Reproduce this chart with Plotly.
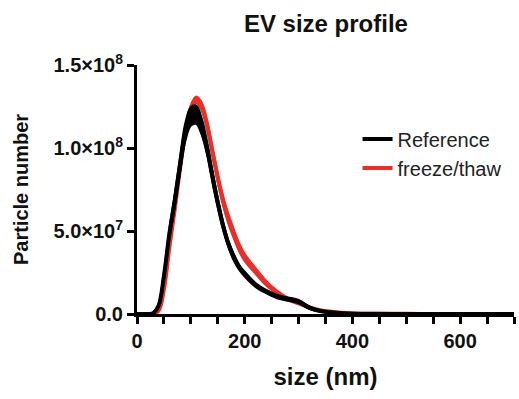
import plotly.graph_objects as go

size_nm = [0, 20, 30, 40, 50, 60, 70, 80, 90, 100, 110, 120, 130, 140, 150, 160, 170, 180, 190, 200,
           220, 240, 260, 280, 300, 320, 340, 360, 380, 400, 450, 500, 550, 600, 700]

ref_mean = [0, 0, 0.5e6, 5e6, 2.3e7, 4.8e7, 6.8e7, 9.0e7, 1.10e8, 1.19e8, 1.20e8, 1.13e8, 1.0e8, 8.3e7,
            6.7e7, 5.3e7, 4.2e7, 3.4e7, 2.8e7, 2.4e7, 1.75e7, 1.35e7, 1.05e7, 9.0e6, 7.5e6, 3.8e6,
            1.8e6, 1.0e6, 5e5, 2e5, 5e4, 0, 0, 0, 0]
ref_sem = [0, 0, 0.2e6, 1e6, 2e6, 3e6, 4e6, 5e6, 5.5e6, 5.5e6, 5.5e6, 5e6, 4e6, 3.5e6, 3e6, 2.5e6, 2e6,
           2e6, 1.5e6, 1.5e6, 1.2e6, 1e6, 1e6, 1e6, 1e6, 0.8e6, 0.5e6, 0.3e6, 0.2e6, 0.1e6, 0, 0, 0, 0, 0]

ft_mean = [0, 0, 0, 2e6, 1.5e7, 4.0e7, 6.3e7, 8.8e7, 1.10e8, 1.24e8, 1.29e8, 1.25e8, 1.14e8, 9.8e7,
           8.2e7, 6.8e7, 5.7e7, 4.8e7, 4.0e7, 3.4e7, 2.6e7, 1.85e7, 1.3e7, 9.0e6, 6.5e6, 4.0e6,
           2.3e6, 1.4e6, 8e5, 5e5, 3e5, 1e5, 0, 0, 0]
ft_sem = [0, 0, 0, 0.5e6, 1e6, 1.5e6, 2e6, 2e6, 2e6, 2e6, 2e6, 2.5e6, 3e6, 3e6, 3e6, 3e6, 3e6, 2.8e6,
          2.5e6, 2.2e6, 1.8e6, 1.4e6, 1.1e6, 0.8e6, 0.6e6, 0.4e6, 0.3e6, 0.2e6, 0.1e6, 0, 0, 0, 0, 0, 0]

y_tickvals = [0, 5e7, 1e8, 1.5e8]
y_ticktext = ["0.0", "5.0×10<sup>7</sup>", "1.0×10<sup>8</sup>", "1.5×10<sup>8</sup>"]
x_tickvals = [0, 200, 400, 600]

FONT = "Liberation Sans, Arial, Helvetica, sans-serif"
BLACK = "#000000"
RED = "#e8302a"

fig = go.Figure()


def add_series(name, mean, sem, color, rank):
    upper = [m + s for m, s in zip(mean, sem)]
    lower = [max(m - s, 0) for m, s in zip(mean, sem)]
    fig.add_trace(go.Scatter(x=size_nm, y=upper, mode="lines", line=dict(color=color, width=2, shape="spline"),
                             showlegend=False, hoverinfo="skip"))
    fig.add_trace(go.Scatter(x=size_nm, y=lower, mode="lines", line=dict(color=color, width=2, shape="spline"),
                             fill="tonexty", fillcolor=color, showlegend=False, hoverinfo="skip"))
    fig.add_trace(go.Scatter(x=size_nm, y=mean, mode="lines", name=name, legendrank=rank,
                             line=dict(color=color, width=4, shape="spline")))


add_series("freeze/thaw", ft_mean, ft_sem, RED, 2)
add_series("Reference", ref_mean, ref_sem, BLACK, 1)

fig.update_layout(
    width=519, height=399,
    margin=dict(l=137, r=5, t=65, b=85),
    paper_bgcolor="white", plot_bgcolor="white",
    font=dict(family=FONT, color="#111111"),
    title=dict(text="EV size profile", x=0.628, xanchor="center", y=0.942, yanchor="middle",
               font=dict(size=24, weight="bold", family=FONT, color="#111111")),
    legend=dict(x=0.585, y=0.645, xanchor="left", yanchor="middle", bgcolor="rgba(0,0,0,0)",
                traceorder="normal",
                font=dict(size=20, family=FONT, color="#222222"), tracegroupgap=2),
    showlegend=True,
)

fig.update_xaxes(
    range=[0, 700], tickvals=x_tickvals, ticks="outside", ticklen=7, tickwidth=3, tickcolor=BLACK,
    showline=True, linewidth=3, linecolor=BLACK, showgrid=False, zeroline=False,
    tickfont=dict(size=20, weight="bold", family=FONT, color="#111111"),
    minor=dict(dtick=50, tick0=0, ticks="outside", ticklen=7, tickwidth=3, tickcolor=BLACK, showgrid=False),
    title=dict(text="size (nm)", font=dict(size=24, weight="bold", family=FONT, color="#111111"), standoff=18),
)
fig.update_yaxes(
    range=[0, 1.5e8], tickvals=y_tickvals, ticktext=y_ticktext, ticks="outside", ticklen=7, tickwidth=3,
    tickcolor=BLACK, showline=True, linewidth=3, linecolor=BLACK, showgrid=False, zeroline=False,
    tickfont=dict(size=20, weight="bold", family=FONT, color="#111111"),
    title=dict(text="Particle number", font=dict(size=20, weight="bold", family=FONT, color="#111111"), standoff=20),
)

fig.write_html("out.html")
